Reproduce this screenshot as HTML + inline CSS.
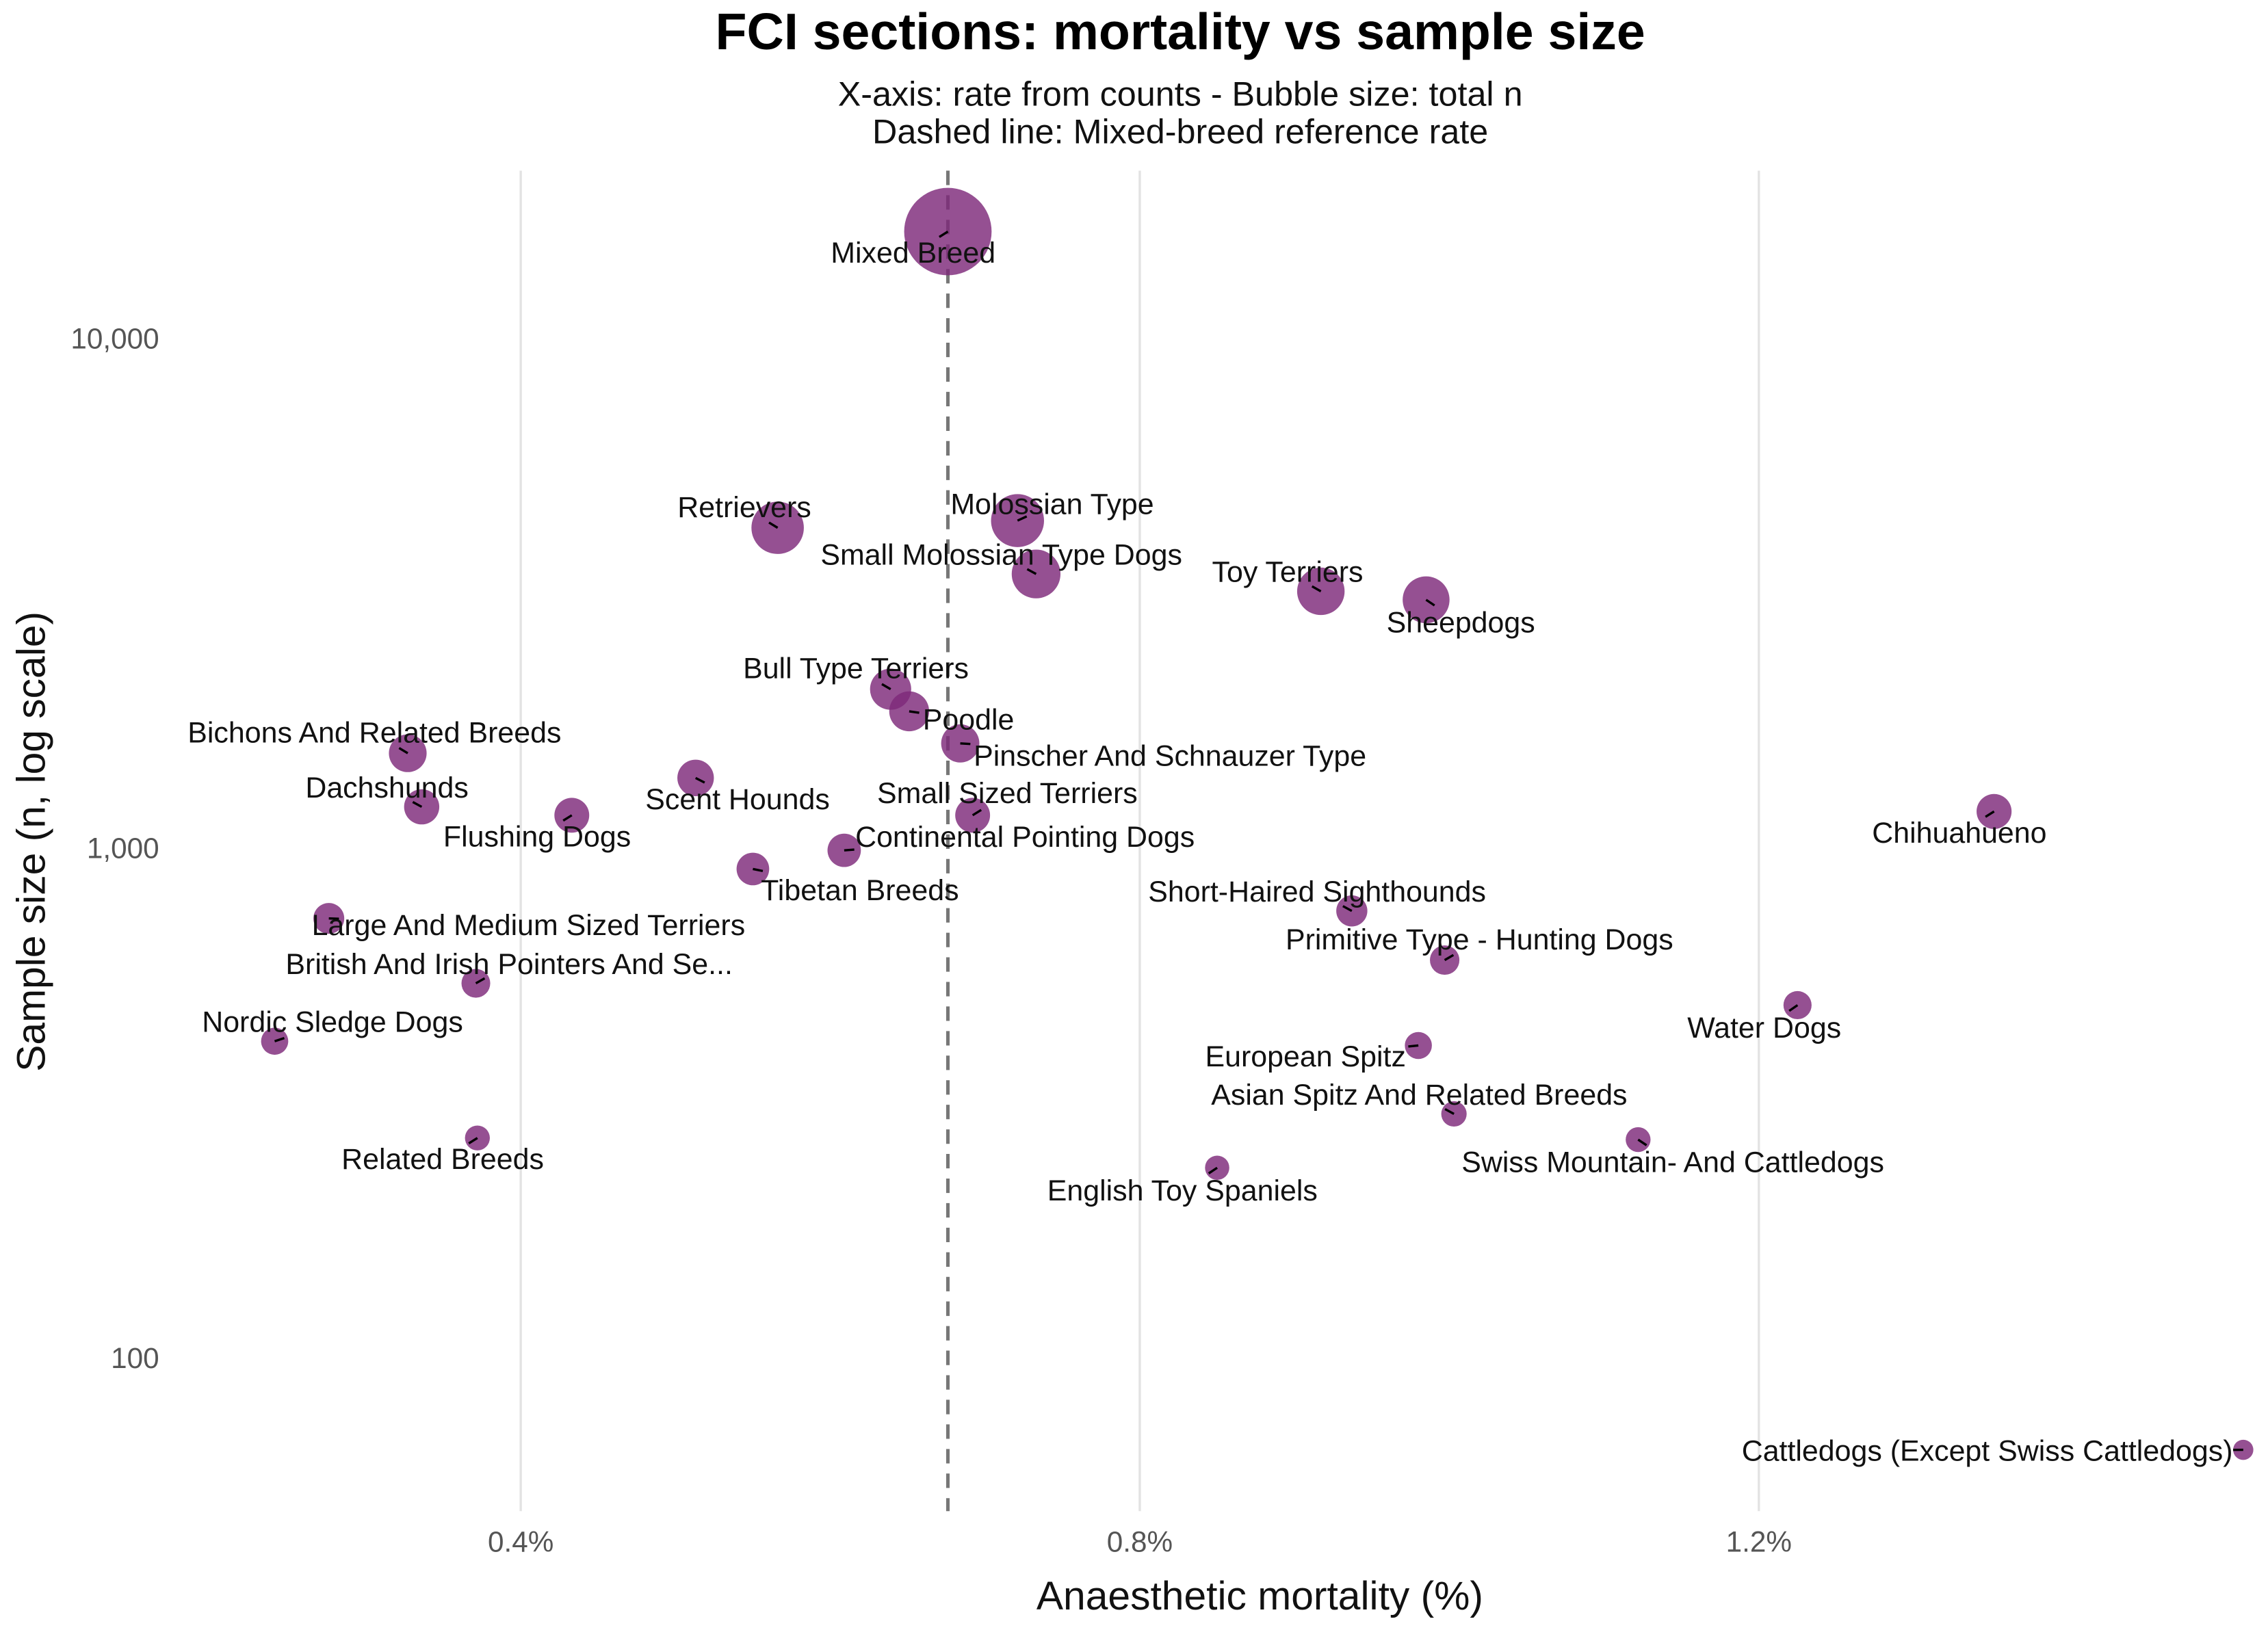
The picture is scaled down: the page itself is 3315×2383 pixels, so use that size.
<!DOCTYPE html>
<html><head><meta charset="utf-8"><style>
html,body{margin:0;padding:0;background:#fff;}
svg{display:block;font-family:"Liberation Sans",sans-serif;}
</style></head><body>
<svg id="chart" width="3315" height="2383" viewBox="0 0 1568 1127.2" xmlns="http://www.w3.org/2000/svg">
<rect x="0" y="0" width="1568" height="1127.2" fill="#fff"/>
<text x="816" y="34" text-anchor="middle" font-size="35.6" font-weight="bold" fill="#000">FCI sections: mortality vs sample size</text>
<text x="816" y="73" text-anchor="middle" font-size="23.8" fill="#111">X-axis: rate from counts - Bubble size: total n</text>
<text x="816" y="99" text-anchor="middle" font-size="23.8" fill="#111">Dashed line: Mixed-breed reference rate</text>
<g id="grid"></g>
<g id="refline"></g>
<g id="bubbles"></g>
<g id="labels"></g>
<g id="axes"></g>
<text x="871" y="1113" text-anchor="middle" font-size="27.8" fill="#111">Anaesthetic mortality (%)</text>
<text transform="translate(31,582) rotate(-90)" text-anchor="middle" font-size="27.8" fill="#111">Sample size (n, log scale)</text>
</svg>
<script>
const categories = ["Mixed Breed","Retrievers","Molossian Type","Small Molossian Type Dogs","Toy Terriers","Sheepdogs","Bull Type Terriers","Poodle","Pinscher And Schnauzer Type","Bichons And Related Breeds","Scent Hounds","Dachshunds","Flushing Dogs","Small Sized Terriers","Chihuahueno","Continental Pointing Dogs","Tibetan Breeds","Short-Haired Sighthounds","Large And Medium Sized Terriers","Primitive Type - Hunting Dogs","British And Irish Pointers And Se...","Water Dogs","European Spitz","Nordic Sledge Dogs","Asian Spitz And Related Breeds","Related Breeds","Swiss Mountain- And Cattledogs","English Toy Spaniels","Cattledogs (Except Swiss Cattledogs)"];
const mortality = [0.676,0.566,0.721,0.733,0.917,0.985,0.639,0.651,0.684,0.327,0.513,0.336,0.433,0.692,1.352,0.609,0.550,0.937,0.276,0.997,0.371,1.225,0.980,0.241,1.003,0.372,1.122,0.850,1.513];
const sampleSize = [16200,4250,4390,3450,3190,3070,2050,1855,1605,1535,1373,1205,1160,1160,1180,990,910,753,728,603,543,492,410,418,301,270,268,236,66];
const referenceRate = [0.676];
const xTicks = [0.4,0.8,1.2];
const xTickLabels = ["0.4%","0.8%","1.2%"];
const yTicks = [100,1000,10000];
const yTickLabels = ["100","1,000","10,000"];
// label offsets (layout, display px) relative to bubble
const labelDX = [-24,-23,24,-24,-23,24,-24,41,145,-23,29,-24,-24,24,-24,125,74,-24,138,24,23,-23,-78,40,-24,-24,24,-24,-177];
const labelDY = [15,-14,-11,-13,-13,16,-14,6,9,-14,15,-13,15,-15,15,-9,15,-13,5,-14,-13,16,8,-13,-13,15,16,16,1];

const NS="http://www.w3.org/2000/svg";
const Y0=118, Y1=1045;
function xScale(v){return 360+(v-0.4)*1070;}
function yScale(v){return 234-(Math.log10(v)-4)*352.5;}
function rScale(n){return 5.4+0.195*Math.sqrt(n);}
function mk(tag,attrs,parent){const e=document.createElementNS(NS,tag);for(const k in attrs)e.setAttribute(k,attrs[k]);parent.appendChild(e);return e;}

const grid=document.getElementById('grid');
xTicks.forEach((t,i)=>{
  const l=mk('line',{x1:xScale(t),x2:xScale(t),y1:Y0,y2:Y1,stroke:'#e3e3e3','stroke-width':1.6},grid);
  
  
});
const axes=document.getElementById('axes');
xTicks.forEach((t,i)=>{
  const tx=mk('text',{x:xScale(t),y:1073,'text-anchor':'middle','font-size':20,fill:'#555'},axes);
  tx.textContent=xTickLabels[i];
  
  
});
yTicks.forEach((t,i)=>{
  const tx=mk('text',{x:110,y:yScale(t)+7,'text-anchor':'end','font-size':20,fill:'#555'},axes);
  tx.textContent=yTickLabels[i];
  
  
});
const rl=document.getElementById('refline');
referenceRate.forEach(r=>{
  const l=mk('line',{x1:xScale(r),x2:xScale(r),y1:Y0,y2:Y1,stroke:'#777','stroke-width':2.4,'stroke-dasharray':'10,7'},rl);
  
  
});
const bg=document.getElementById('bubbles'), lg=document.getElementById('labels');
categories.forEach((c,i)=>{
  const cx=xScale(mortality[i]), cy=yScale(sampleSize[i]);
  const b=mk('circle',{cx:cx,cy:cy,r:rScale(sampleSize[i]),fill:'#7e2a7a','fill-opacity':0.82},bg);
  
  
  const dx=labelDX[i], dy=labelDY[i];
  const len=Math.hypot(dx,dy)||1;
  const seg=mk('line',{x1:cx,y1:cy,x2:cx+dx/len*7,y2:cy+dy/len*7,stroke:'#000','stroke-width':1.6},lg);
  
  
  const t=mk('text',{x:cx+dx,y:cy+dy+6.5,'text-anchor':'middle','font-size':20.3,fill:'#111'},lg);
  t.textContent=c;
  
  
});
</script>
</body></html>
